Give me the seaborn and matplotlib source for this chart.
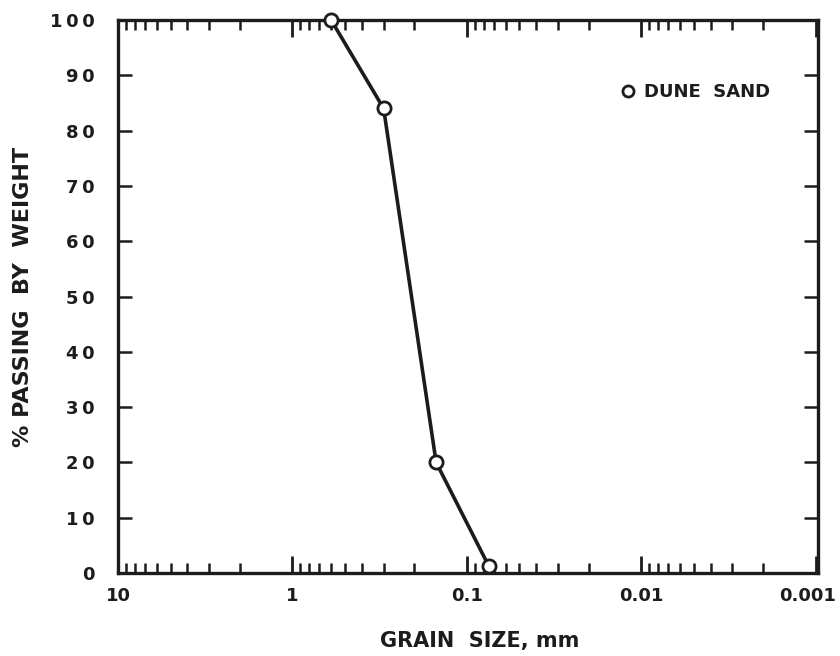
import matplotlib
matplotlib.use("Agg")
import matplotlib.pyplot as plt
import matplotlib.transforms as mtransforms
import seaborn as sns
import pandas as pd
import numpy as np
from matplotlib.ticker import FixedLocator, NullFormatter, FixedFormatter

# Data
grain_size_mm = [0.6, 0.3, 0.15, 0.075]
percent_passing = [100, 84, 20, 1.3]
series_label = "DUNE  SAND"
x_tick_values = [10, 1, 0.1, 0.01, 0.001]
x_tick_labels = ["10", "1", "0.1", "0.01", "0.001"]
y_tick_values = [0, 10, 20, 30, 40, 50, 60, 70, 80, 90, 100]
y_tick_labels = ["0", "1\u20090", "2\u20090", "3\u20090", "4\u20090", "5\u20090",
                 "6\u20090", "7\u20090", "8\u20090", "9\u20090", "1\u20090\u20090"]

df = pd.DataFrame({"size": grain_size_mm, "passing": percent_passing, "sample": series_label})

sns.set_theme(style="white")
plt.rcParams['font.family'] = ['DejaVu Sans']
ink = "#1c1c1c"

fig = plt.figure(figsize=(8.4, 6.56), dpi=100)
ax = fig.add_axes([118/840, 83/656, 700/840, 553/656])

sns.lineplot(data=df, x="size", y="passing", hue="sample", palette=[ink],
             marker="o", markersize=9.5, markerfacecolor="white",
             markeredgecolor=ink, markeredgewidth=2.0, linewidth=2.6,
             sort=False, ax=ax, clip_on=False, zorder=5)

ax.set_xscale("log")
ax.set_xlim(10, 0.00097)
ax.set_ylim(0, 100)

ax.xaxis.set_major_locator(FixedLocator(x_tick_values))
ax.xaxis.set_major_formatter(FixedFormatter(x_tick_labels))
minor = []
for dec in [1, 0.1, 0.01, 0.001]:
    for m in range(2, 10):
        minor.append(dec * m)
ax.xaxis.set_minor_locator(FixedLocator(minor))
ax.xaxis.set_minor_formatter(NullFormatter())

ax.set_yticks(y_tick_values)
ax.set_yticklabels(y_tick_labels)

ax.tick_params(axis="x", which="major", direction="in", length=12, width=2,
               color=ink, top=True, bottom=True, pad=10, labelsize=13, labelcolor=ink)
ax.tick_params(axis="x", which="minor", direction="in", length=7, width=1.8,
               color=ink, top=True, bottom=True)
ax.tick_params(axis="y", which="major", direction="in", length=10, width=1.8,
               color=ink, left=True, right=True, pad=17, labelsize=13, labelcolor=ink)
for lab in ax.get_xticklabels() + ax.get_yticklabels():
    lab.set_fontweight("bold")

# nudge the last x tick label inward so it stays inside the figure
last = ax.get_xticklabels()[-1]
last.set_transform(last.get_transform() + mtransforms.ScaledTranslation(-8/100, 0, fig.dpi_scale_trans))

for s in ax.spines.values():
    s.set_color(ink)
    s.set_linewidth(2.4)

ax.set_xlabel("GRAIN  SIZE, mm", fontsize=15, fontweight="bold", color=ink)
ax.xaxis.set_label_coords(0.517, -0.105)
ax.set_ylabel("% PASSING  BY  WEIGHT", fontsize=16, fontweight="bold", color=ink)
ax.yaxis.set_label_coords(-0.122, 0.5)

leg = ax.legend(loc="upper right", bbox_to_anchor=(0.955, 0.915), frameon=False,
                fontsize=13, handlelength=0.6, handletextpad=0.6)
for t in leg.get_texts():
    t.set_fontweight("bold")
    t.set_color(ink)
for h in leg.get_lines():
    h.set_linestyle("none")
    h.set_markersize(8)

fig.savefig("out.png", dpi=100, facecolor="white")
